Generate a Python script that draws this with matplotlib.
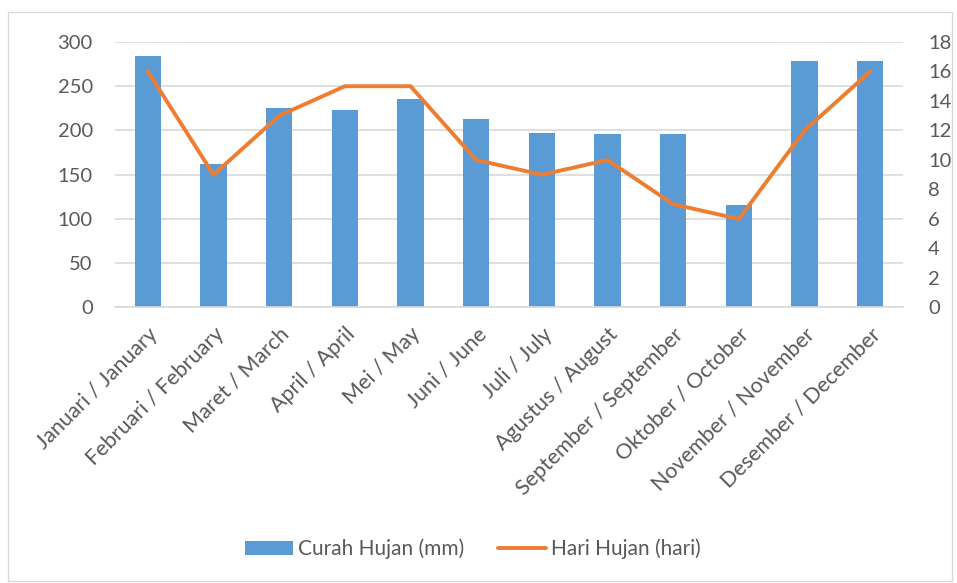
import matplotlib
matplotlib.use("Agg")
from matplotlib import pyplot as plt
from matplotlib.patches import Rectangle

# data
months = ['Januari / January', 'Februari / February', 'Maret / March', 'April / April',
          'Mei / May', 'Juni / June', 'Juli / July', 'Agustus / August',
          'September / September', 'Oktober / October', 'November / November',
          'Desember / December']
curah_hujan = [284, 162, 225, 223, 236, 213, 197, 196, 196, 116, 278, 278]
hari_hujan = [16, 9, 13, 15, 15, 10, 9, 10, 7, 6, 12, 16]

plt.rcParams['font.family'] = ['Lato', 'DejaVu Sans']
gray = '#595959'
fs = 14.5

fig = plt.figure(figsize=(9.57, 5.83), dpi=100)
# chart border
fig.patches.append(Rectangle((0.008, 0.004), 0.987, 0.975, transform=fig.transFigure,
                             fill=False, edgecolor='#d9d9d9', linewidth=1))

ax = fig.add_axes([0.1202, 0.4726, 0.8234, 0.4554])
x = range(len(months))
bars = ax.bar(x, curah_hujan, width=0.4, color='#5B9BD5', label='Curah Hujan (mm)', zorder=2)
ax.set_ylim(0, 300)
ax.set_yticks(range(0, 301, 50))
ax.set_xlim(-0.5, len(months) - 0.5)
ax.yaxis.grid(True, color='#d9d9d9', linewidth=1.2, zorder=0)
ax.set_axisbelow(True)
for s in ['top', 'right', 'left']:
    ax.spines[s].set_visible(False)
ax.spines['bottom'].set_color('#d9d9d9')
ax.spines['bottom'].set_linewidth(1.2)
ax.tick_params(axis='y', length=0, labelsize=fs, colors=gray, pad=16)
ax.tick_params(axis='x', length=0, labelsize=15.5, colors=gray, pad=12)
ax.set_xticks(list(x))
ax.set_xticklabels(months, rotation=45, ha='right', rotation_mode='anchor')

ax2 = ax.twinx()
line, = ax2.plot(list(x), hari_hujan, color='#ED7D31', linewidth=2.8,
                 solid_capstyle='round', label='Hari Hujan (hari)', zorder=3)
ax2.set_ylim(0, 18)
ax2.set_yticks(range(0, 19, 2))
for s in ['top', 'right', 'left', 'bottom']:
    ax2.spines[s].set_visible(False)
ax2.tick_params(axis='y', length=0, labelsize=fs, colors=gray, pad=18)

fig.legend(handles=[bars, line], loc='center', bbox_to_anchor=(0.494, 0.058), ncol=2,
           frameon=False, fontsize=15, labelcolor=gray, handlelength=2.3,
           columnspacing=1.6, handletextpad=0.25)

fig.savefig('out.png', dpi=100)
